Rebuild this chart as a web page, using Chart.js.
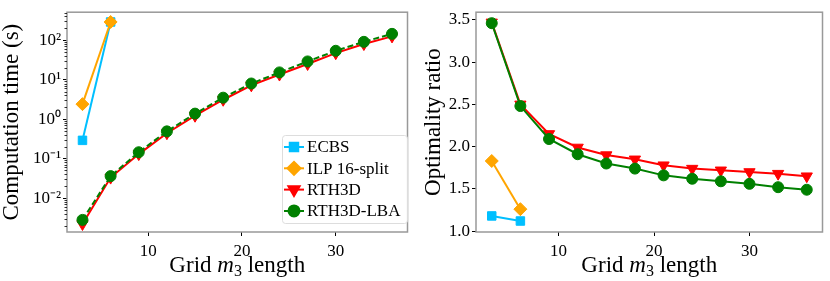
<!DOCTYPE html>
<html>
<head>
<meta charset="utf-8">
<script src="https://cdn.jsdelivr.net/npm/chart.js@4.4.1/dist/chart.umd.min.js"></script>
<style>
html,body{margin:0;padding:0;background:#fff;}
#wrap{position:relative;width:830px;height:281px;}
canvas{position:absolute;top:0;}
</style>
</head>
<body>
<div id="wrap">
<canvas id="c1" width="415" height="281" style="left:0"></canvas>
<canvas id="c2" width="415" height="281" style="left:415px"></canvas>
</div>
<script>
// ---- data ----
const gridLengths = [3, 6, 9, 12, 15, 18, 21, 24, 27, 30, 33, 36];
const seriesNames = ['ECBS', 'ILP 16-split', 'RTH3D', 'RTH3D-LBA'];
// computation time (s)
const timeECBS = [0.29, 290];
const timeILP = [2.4, 290];
const timeRTH3D = [0.0022, 0.033, 0.13, 0.44, 1.22, 3.1, 7.2, 13.5, 25, 47, 80, 125];
const timeLBA = [0.0028, 0.036, 0.145, 0.49, 1.38, 3.5, 8.0, 15.3, 29, 54, 91, 145];
// optimality ratio
const ratioECBS = [1.18, 1.12];
const ratioILP = [1.83, 1.26];
const ratioRTH3D = [3.47, 2.50, 2.15, 1.99, 1.90, 1.85, 1.78, 1.74, 1.72, 1.70, 1.68, 1.65];
const ratioLBA = [3.46, 2.48, 2.09, 1.91, 1.80, 1.74, 1.66, 1.62, 1.59, 1.56, 1.52, 1.49];
// tick labels
const xTicks = [10, 20, 30];
const timeTicks = [0.01, 0.1, 1, 10, 100];
const timeTickLabels = ['10\u207B\u00B2', '10\u207B\u00B9', '10\u2070', '10\u00B9', '10\u00B2'];
const ratioTicks = [1.0, 1.5, 2.0, 2.5, 3.0, 3.5];
const ratioTickLabels = ['1.0', '1.5', '2.0', '2.5', '3.0', '3.5'];

// ---- styles ----
const FONT = 'Liberation Serif';
const colors = ['#00bfff', '#ffa500', '#ff0000', '#008000'];
const pstyles = [
  {pointStyle: 'rect', pointRadius: 6, pointRotation: 0},
  {pointStyle: 'rectRot', pointRadius: 6.5, pointRotation: 0},
  {pointStyle: 'triangle', pointRadius: 6.5, pointRotation: 180},
  {pointStyle: 'circle', pointRadius: 5.5, pointRotation: 0}
];
const SPINE = '#999999';

function pts(vals) { return vals.map((v, i) => ({x: gridLengths[i], y: v})); }
function ds(i, vals, dashed) {
  return Object.assign({
    label: seriesNames[i],
    data: pts(vals),
    borderColor: colors[i],
    backgroundColor: colors[i],
    pointBackgroundColor: colors[i],
    pointBorderColor: colors[i],
    pointBorderWidth: 1,
    borderWidth: 2,
    borderDash: dashed ? [6, 3] : [],
    tension: 0,
    order: 3 - i
  }, pstyles[i]);
}

const spinePlugin = {
  id: 'spines',
  afterDraw(chart, args, opts) {
    const a = chart.chartArea, ctx = chart.ctx;
    ctx.save();
    ctx.strokeStyle = SPINE;
    ctx.lineWidth = 1.5;
    ctx.strokeRect(a.left, a.top, a.right - a.left, a.bottom - a.top);
    // x title with italic m and subscript 3
    const y = 272;
    const parts = [
      {t: 'Grid ', f: '23px "' + FONT + '"', dy: 0},
      {t: 'm', f: 'italic 23px "' + FONT + '"', dy: 0},
      {t: '3', f: '16px "' + FONT + '"', dy: 4},
      {t: ' length', f: '23px "' + FONT + '"', dy: 0}
    ];
    let w = 0;
    parts.forEach(p => { ctx.font = p.f; p.w = ctx.measureText(p.t).width; w += p.w; });
    let x = (a.left + a.right) / 2 - w / 2;
    ctx.fillStyle = '#000';
    ctx.textBaseline = 'alphabetic';
    ctx.textAlign = 'left';
    parts.forEach(p => { ctx.font = p.f; ctx.fillText(p.t, x, y + p.dy); x += p.w; });
    // minor ticks for log axis
    if (opts && opts.minor) {
      const s = chart.scales.y;
      ctx.strokeStyle = '#000';
      ctx.lineWidth = 0.8;
      for (let n = -4; n <= 3; n++) {
        for (let k = 2; k <= 9; k++) {
          const v = k * Math.pow(10, n);
          if (v < s.min || v > s.max) continue;
          const py = Math.round(s.getPixelForValue(v)) + 0.5;
          ctx.beginPath();
          ctx.moveTo(a.left - 2.5, py);
          ctx.lineTo(a.left, py);
          ctx.stroke();
        }
      }
    }
    ctx.restore();
  }
};

function drawMarker(ctx, i, x, y) {
  const st = pstyles[i];
  Chart.helpers.drawPoint(ctx, {pointStyle: st.pointStyle, rotation: st.pointRotation, radius: st.pointRadius, borderWidth: 1}, x, y);
}

const legendPlugin = {
  id: 'inLegend',
  afterDraw(chart) {
    const ctx = chart.ctx;
    ctx.save();
    const bx = 282.5, by = 135.5, bw = 125, bh = 88;
    ctx.fillStyle = 'rgba(255,255,255,0.8)';
    ctx.strokeStyle = '#dddddd';
    ctx.lineWidth = 1;
    ctx.beginPath();
    ctx.roundRect(bx, by, bw, bh, 3);
    ctx.fill();
    ctx.stroke();
    ctx.font = '17px "' + FONT + '"';
    ctx.textBaseline = 'middle';
    ctx.textAlign = 'left';
    for (let i = 0; i < 4; i++) {
      const y = 147 + i * 21.3;
      ctx.strokeStyle = colors[i];
      ctx.fillStyle = colors[i];
      ctx.lineWidth = 2;
      ctx.setLineDash(i === 3 ? [5, 3] : []);
      ctx.beginPath();
      ctx.moveTo(284, y);
      ctx.lineTo(304, y);
      ctx.stroke();
      ctx.setLineDash([]);
      drawMarker(ctx, i, 294, y);
      ctx.fillStyle = '#000';
      ctx.fillText(seriesNames[i], 307, y + 1);
    }
    ctx.restore();
  }
};

const tickFont = {family: FONT, size: 17};
function xScale() {
  return {
    type: 'linear', min: 1.35, max: 37.65,
    afterBuildTicks: s => { s.ticks = xTicks.map(v => ({value: v})); },
    afterFit: s => { s.height = 49; },
    ticks: {font: tickFont, color: '#000', padding: 5, maxRotation: 0, callback: v => String(v)},
    grid: {display: true, drawOnChartArea: false, drawTicks: true, tickLength: 4, tickColor: '#000', tickWidth: 1},
    border: {display: false}
  };
}

new Chart(document.getElementById('c1'), {
  type: 'line',
  data: {datasets: [ds(0, timeECBS), ds(1, timeILP), ds(2, timeRTH3D), ds(3, timeLBA, true)]},
  options: {
    responsive: false, animation: false, devicePixelRatio: 1,
    layout: {padding: {left: 0, right: 1, top: 3, bottom: 0}},
    plugins: {legend: {display: false}, tooltip: {enabled: false}, spines: {minor: true}},
    scales: {
      x: xScale(),
      y: {
        type: 'logarithmic', min: Math.pow(10, -2.86), max: Math.pow(10, 2.71),
        afterBuildTicks: s => { s.ticks = timeTicks.map(v => ({value: v})); },
        afterFit: s => { s.width = 67; },
        ticks: {font: tickFont, color: '#000', padding: 2,
          callback: (v) => { const i = timeTicks.findIndex(t => Math.abs(t - v) / t < 1e-6); return i >= 0 ? timeTickLabels[i] : ''; }},
        grid: {display: true, drawOnChartArea: false, drawTicks: true, tickLength: 4, tickColor: '#000', tickWidth: 1},
        border: {display: false},
        title: {display: true, text: 'Computation time (s)', color: '#000', font: {family: FONT, size: 23, lineHeight: 1.0}, padding: {top: 0, bottom: 0}}
      }
    }
  },
  plugins: [spinePlugin, legendPlugin]
});

new Chart(document.getElementById('c2'), {
  type: 'line',
  data: {datasets: [ds(0, ratioECBS), ds(1, ratioILP), ds(2, ratioRTH3D), ds(3, ratioLBA)]},
  options: {
    responsive: false, animation: false, devicePixelRatio: 1,
    layout: {padding: {left: 0, right: 5, top: 3, bottom: 0}},
    plugins: {legend: {display: false}, tooltip: {enabled: false}, spines: {minor: false}},
    scales: {
      x: xScale(),
      y: {
        type: 'linear', min: 0.99, max: 3.59,
        afterBuildTicks: s => { s.ticks = ratioTicks.map(v => ({value: v})); },
        afterFit: s => { s.width = 61; },
        ticks: {font: tickFont, color: '#000', padding: 2,
          callback: (v) => { const i = ratioTicks.findIndex(t => Math.abs(t - v) < 1e-6); return i >= 0 ? ratioTickLabels[i] : ''; }},
        grid: {display: true, drawOnChartArea: false, drawTicks: true, tickLength: 4, tickColor: '#000', tickWidth: 1},
        border: {display: false},
        title: {display: true, text: 'Optimality ratio', color: '#000', font: {family: FONT, size: 23, lineHeight: 1.0}, padding: {top: 7, bottom: 0}}
      }
    }
  },
  plugins: [spinePlugin]
});
</script>
</body>
</html>
